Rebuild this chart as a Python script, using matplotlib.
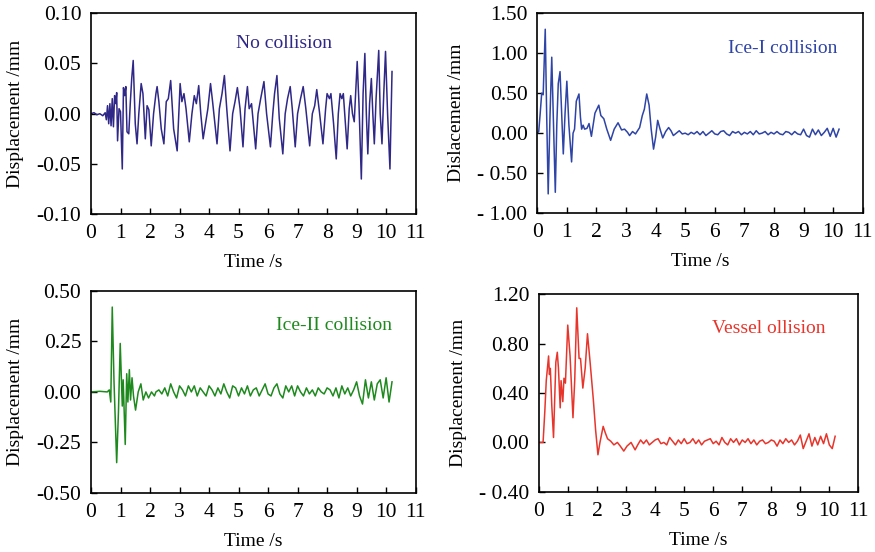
import numpy as np
import matplotlib
matplotlib.use("Agg")
import matplotlib.pyplot as plt

plt.rcParams['font.family'] = ['Liberation Serif', 'DejaVu Serif']

# ---- No collision ----
t_none = [0.00, 0.10, 0.20, 0.30, 0.40, 0.48, 0.52, 0.56, 0.60, 0.64, 0.68, 0.72, 0.76, 0.80,
          0.84, 0.87, 0.90, 0.95, 1.00, 1.06, 1.10, 1.14, 1.18, 1.22, 1.28, 1.33, 1.38, 1.43,
          1.50, 1.56, 1.62, 1.70, 1.76, 1.84, 1.90, 1.96, 2.04, 2.12, 2.20, 2.24, 2.30, 2.38,
          2.47, 2.55, 2.62, 2.70, 2.80, 2.92, 3.02, 3.08, 3.15, 3.22, 3.33, 3.42, 3.50, 3.57,
          3.65, 3.72, 3.80, 3.88, 3.96, 4.05, 4.12, 4.27, 4.35, 4.44, 4.52, 4.60, 4.71, 4.80,
          4.88, 4.96, 5.05, 5.15, 5.22, 5.30, 5.36, 5.44, 5.58, 5.66, 5.75, 5.86, 5.95, 6.08,
          6.16, 6.22, 6.30, 6.38, 6.50, 6.58, 6.66, 6.75, 6.82, 6.92, 7.00, 7.10, 7.19, 7.28,
          7.41, 7.50, 7.58, 7.65, 7.74, 7.86, 7.95, 8.00, 8.08, 8.13, 8.22, 8.31, 8.38, 8.44,
          8.50, 8.55, 8.62, 8.68, 8.75, 8.80, 8.86, 8.92, 9.02, 9.08, 9.16, 9.22, 9.28, 9.33,
          9.38, 9.44, 9.50, 9.55, 9.60, 9.66, 9.75, 9.80, 9.86, 9.92, 9.98, 10.05, 10.13, 10.20]
d_none = [0.000, 0.001, -0.001, 0.000, -0.002, 0.001, -0.006, 0.008, -0.010, 0.010, -0.012, 0.015,
          -0.013, 0.018, 0.010, 0.021, -0.027, 0.005, 0.002, -0.055, 0.026, 0.018, 0.027, -0.018,
          -0.020, 0.010, 0.035, 0.053, -0.010, -0.030, 0.000, 0.030, 0.020, -0.025, 0.008, 0.004,
          -0.032, 0.000, 0.020, 0.027, 0.012, -0.015, -0.030, 0.012, 0.015, 0.033, -0.015, -0.037,
          0.030, 0.012, 0.020, 0.005, -0.028, 0.000, 0.018, 0.010, 0.028, 0.000, -0.025, -0.010,
          0.005, 0.030, 0.012, -0.030, 0.005, 0.020, 0.038, 0.005, -0.037, 0.000, 0.012, 0.026,
          0.005, -0.033, 0.005, 0.027, 0.005, 0.010, -0.035, 0.000, 0.015, 0.032, 0.000, -0.033,
          0.000, 0.020, 0.038, -0.005, -0.040, 0.000, 0.015, 0.027, 0.005, -0.033, 0.000, 0.015,
          0.027, 0.005, -0.032, 0.000, 0.008, 0.024, 0.002, -0.030, 0.005, 0.020, 0.015, 0.020,
          -0.010, -0.045, 0.000, 0.020, 0.015, 0.020, -0.010, -0.035, 0.005, 0.018, 0.000, -0.008,
          0.052, 0.010, -0.065, 0.020, 0.060, 0.000, -0.040, 0.010, 0.035, 0.000, -0.030, 0.015,
          0.063, 0.000, -0.030, 0.020, 0.062, 0.000, -0.055, 0.042]

# ---- Ice-I collision ----
t_ice1 = [0.00, 0.05, 0.10, 0.15, 0.20, 0.27, 0.32, 0.37, 0.43, 0.49, 0.55, 0.61, 0.66, 0.71,
          0.77, 0.83, 0.88, 0.94, 1.00, 1.07, 1.16, 1.21, 1.26, 1.32, 1.41, 1.46, 1.50, 1.55,
          1.60, 1.68, 1.75, 1.83, 1.95, 2.08, 2.15, 2.25, 2.35, 2.48, 2.60, 2.73, 2.85, 2.95,
          3.05, 3.12, 3.22, 3.32, 3.46, 3.55, 3.62, 3.70, 3.78, 3.85, 3.93, 4.00, 4.07, 4.15,
          4.24, 4.34, 4.44, 4.52, 4.60]
d_ice1 = [0.00, 0.02, 0.25, 0.50, 0.48, 1.30, 0.20, -0.76, 0.20, 0.95, 0.10, -0.74, 0.10, 0.62,
          0.77, 0.20, -0.26, 0.25, 0.65, 0.10, -0.36, 0.00, 0.05, 0.40, 0.49, 0.20, 0.05, 0.10,
          0.05, 0.06, 0.12, -0.04, 0.25, 0.35, 0.22, 0.18, 0.05, -0.09, 0.05, 0.13, 0.04, 0.05,
          0.01, -0.03, 0.02, -0.01, 0.07, 0.22, 0.30, 0.49, 0.35, 0.05, -0.20, -0.05, 0.16, 0.05,
          -0.06, 0.02, 0.07, 0.03, -0.03]
ice1_tail = [0.00, 0.03, -0.01, 0.00, -0.02, 0.01, -0.01, 0.02, -0.02, 0.02, -0.03, 0.00, 0.03,
             -0.01, -0.02, 0.02, 0.03, -0.01, -0.03, 0.02, 0.00, 0.02, -0.02, 0.01, -0.01, 0.02,
             -0.02, 0.03, -0.01, 0.00, 0.02, -0.02, 0.01, -0.01, 0.02, -0.01, -0.02, 0.02, 0.01,
             -0.02, 0.02, -0.01, -0.02, 0.05, -0.03, -0.05, 0.05, -0.02, 0.04, -0.03, 0.01, 0.06,
             -0.04, 0.06, -0.05, 0.05]

# ---- Ice-II collision ----
t_ice2 = [0.00, 0.30, 0.55, 0.62, 0.67, 0.72, 0.78, 0.87, 0.93, 0.99, 1.06, 1.09, 1.16, 1.21,
          1.25, 1.30, 1.34, 1.39, 1.44, 1.51, 1.60, 1.69, 1.77, 1.86, 1.95, 2.05, 2.15]
d_ice2 = [0.000, 0.003, 0.000, 0.010, -0.050, 0.420, 0.050, -0.350, -0.100, 0.240, -0.070, 0.060,
          -0.260, 0.090, -0.050, 0.110, -0.040, 0.070, -0.020, -0.090, 0.000, 0.040, -0.040,
          0.000, -0.030, 0.000, -0.020]
ice2_tail = [0.00, 0.01, -0.01, 0.02, -0.02, 0.04, 0.00, -0.03, 0.03, 0.01, -0.02, 0.03, 0.00,
             0.03, -0.02, 0.02, 0.00, -0.02, 0.03, 0.01, -0.02, 0.02, -0.01, 0.04, 0.00, -0.03,
             0.03, 0.02, -0.02, 0.02, -0.01, 0.03, -0.02, 0.01, 0.02, -0.02, 0.01, 0.04, -0.01,
             -0.02, 0.02, 0.04, -0.01, -0.03, 0.03, 0.00, 0.03, -0.02, 0.03, 0.00, -0.02, 0.02,
             -0.01, 0.01, -0.02, 0.02, 0.00, -0.01, 0.02, 0.01, -0.02, 0.02, -0.03, 0.03, -0.01,
             0.02, -0.02, 0.01, 0.05, -0.02, -0.06, 0.06, -0.03, 0.05, -0.04, 0.04, 0.06, -0.03,
             0.07, -0.05, 0.05]

# ---- Vessel collision ----
t_vessel = [0.00, 0.14, 0.20, 0.25, 0.33, 0.36, 0.39, 0.44, 0.50, 0.58, 0.63, 0.67, 0.73, 0.76,
            0.82, 0.86, 0.91, 0.99, 1.07, 1.17, 1.23, 1.30, 1.38, 1.43, 1.51, 1.59, 1.67, 1.76,
            1.87, 1.95, 2.03, 2.10, 2.21, 2.28, 2.36, 2.47, 2.58, 2.70, 2.80, 2.92, 3.03, 3.17,
            3.31]
d_vessel = [0.00, 0.00, 0.25, 0.50, 0.70, 0.55, 0.60, 0.30, 0.04, 0.65, 0.73, 0.60, 0.28, 0.50,
            0.33, 0.52, 0.48, 0.95, 0.70, 0.20, 0.50, 1.09, 0.68, 0.68, 0.44, 0.60, 0.88, 0.65,
            0.35, 0.10, -0.10, 0.00, 0.13, 0.08, 0.03, 0.01, -0.02, 0.00, -0.03, -0.07, -0.03,
            0.00, -0.06]
vessel_tail = [-0.02, 0.02, -0.01, 0.02, -0.02, 0.00, 0.02, 0.03, -0.01, 0.00, -0.02, 0.04, 0.01,
               -0.02, 0.02, -0.01, 0.03, -0.01, 0.00, 0.03, -0.01, 0.02, -0.02, 0.01, 0.02, 0.03,
               -0.01, 0.01, -0.02, 0.04, 0.00, -0.02, 0.03, 0.00, 0.03, -0.02, 0.02, 0.00, 0.03,
               -0.01, 0.02, -0.02, 0.01, 0.02, -0.01, 0.00, 0.02, 0.01, -0.03, 0.02, -0.01, 0.03,
               0.00, 0.02, -0.02, 0.01, 0.06, -0.05, 0.01, 0.07, -0.03, 0.04, -0.02, 0.05, -0.01,
               0.07, -0.02, -0.05, 0.05]


def with_tail(t, d, tail, start):
    tt = np.linspace(start, 10.2, len(tail))
    return np.concatenate([t, tt]), np.concatenate([d, tail])


t2, y2 = with_tail(t_ice1, d_ice1, ice1_tail, 4.7)
t3, y3 = with_tail(t_ice2, d_ice2, ice2_tail, 2.2)
t4, y4 = with_tail(t_vessel, d_vessel, vessel_tail, 3.4)

panels = [
    dict(pos=[0.104, 0.612, 0.371, 0.364], t=t_none, y=d_none, color='#2f2887',
         ylim=(-0.10, 0.10), ticks=[-0.10, -0.05, 0.00, 0.05, 0.10],
         labels=['-0.10', '-0.05', '0.00', '0.05', '0.10'], ylabel='Displacement /mm',
         text='No collision', tx=6.55, ty=0.070),
    dict(pos=[0.614, 0.614, 0.372, 0.362], t=t2, y=y2, color='#2e44a6',
         ylim=(-1.00, 1.50), ticks=[-1.00, -0.50, 0.00, 0.50, 1.00, 1.50],
         labels=['- 1.00', '- 0.50', '0.00', '0.50', '1.00', '1.50'], ylabel='Dislacement /mm',
         text='Ice-I collision', tx=8.3, ty=1.06),
    dict(pos=[0.104, 0.107, 0.371, 0.366], t=t3, y=y3, color='#1e8a1e',
         ylim=(-0.50, 0.50), ticks=[-0.50, -0.25, 0.00, 0.25, 0.50],
         labels=['-0.50', '-0.25', '0.00', '0.25', '0.50'], ylabel='Displacement /mm',
         text='Ice-II collision', tx=8.25, ty=0.33),
    dict(pos=[0.616, 0.109, 0.365, 0.358], t=t4, y=y4, color='#e8352b',
         ylim=(-0.40, 1.20), ticks=[-0.40, 0.00, 0.40, 0.80, 1.20],
         labels=['- 0.40', '0.00', '0.40', '0.80', '1.20'], ylabel='Displacement /mm',
         text='Vessel ollision', tx=7.9, ty=0.92),
]

fig = plt.figure(figsize=(8.75, 5.52), dpi=100)
for p in panels:
    ax = fig.add_axes(p['pos'])
    ax.plot(p['t'], p['y'], color=p['color'], lw=1.1)
    ax.set_xlim(0, 11)
    ax.set_ylim(*p['ylim'])
    ax.set_xticks(range(12))
    ax.set_yticks(p['ticks'])
    ax.set_yticklabels(p['labels'])
    ax.tick_params(direction='in', length=4, width=1, labelsize=15.5, pad=7)
    for s in ax.spines.values():
        s.set_linewidth(1.2)
    ax.set_xlabel('Time /s', fontsize=14, labelpad=8)
    ax.set_ylabel(p['ylabel'], fontsize=14, labelpad=9)
    ax.text(p['tx'], p['ty'], p['text'], color=p['color'], fontsize=14,
            ha='center', va='center')

fig.savefig('out.png', dpi=100)
